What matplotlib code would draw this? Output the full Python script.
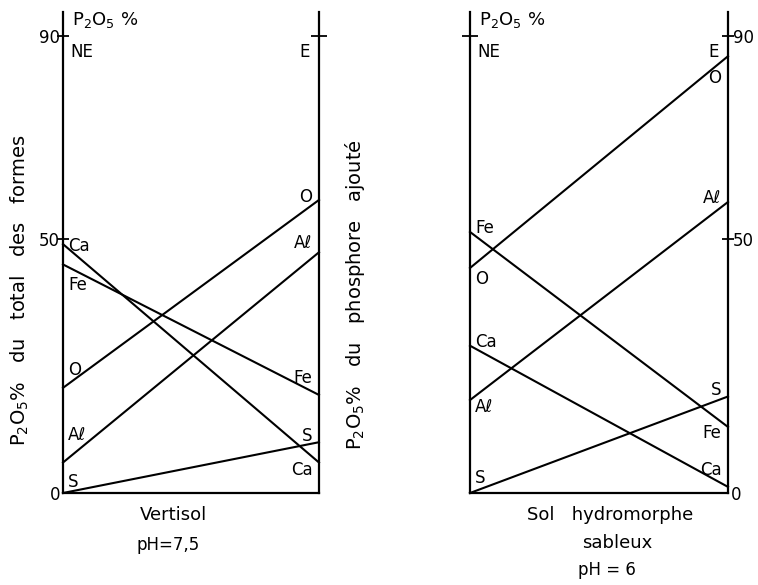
import matplotlib
matplotlib.use('Agg')
import matplotlib.pyplot as plt

# data: P2O5 % per form, NE (left axis) -> E (right axis)
forms = ['Ca', 'Fe', 'O', 'Aℓ', 'S']
vertisol_ne = [49, 45, 20.7, 6, 0]
vertisol_e = [6, 19.3, 57.7, 47.4, 10]
hydro_ne = [29, 51.4, 44.3, 18.3, 0]
hydro_e = [1.2, 13, 86, 57.3, 19]
ymax = 94.7

# label nudges (data units) relative to the line ends
vert_off_ne = [-0.4, -4.1, 3.5, 5.4, 2.2]
vert_off_e = [-1.5, 3.3, 0.6, 1.8, 1.2]
hydro_off_ne = [0.7, 0.8, -2.2, -1.4, 3.0]
hydro_off_e = [3.3, -1.2, -4.3, 0.8, 1.3]

fig = plt.figure(figsize=(7.58, 5.85), dpi=100)
plt.rcParams['font.family'] = 'DejaVu Sans'
FS = 12

def panel(rect):
    ax = fig.add_axes(rect)
    ax.set_xlim(0, 1)
    ax.set_ylim(0, ymax)
    ax.spines['top'].set_visible(False)
    for s in ['left', 'right', 'bottom']:
        ax.spines[s].set_linewidth(1.6)
    ax.set_xticks([])
    ax.set_yticks([])
    return ax

ax1 = panel([63 / 758, 92 / 585, 256 / 758, 481 / 585])
ax2 = panel([470 / 758, 92 / 585, 258 / 758, 481 / 585])

def draw(ax, ne_vals, e_vals, off_ne, off_e):
    for name, ne, e, a, b in zip(forms, ne_vals, e_vals, off_ne, off_e):
        ax.plot([0, 1], [ne, e], color='black', lw=1.5, clip_on=False)
        ax.text(0.02, ne + a, name, fontsize=FS, va='center', ha='left')
        ax.text(0.975, e + b, name, fontsize=FS, va='center', ha='right')

draw(ax1, vertisol_ne, vertisol_e, vert_off_ne, vert_off_e)
draw(ax2, hydro_ne, hydro_e, hydro_off_ne, hydro_off_e)

# ticks, left panel
ax1.set_yticks([50, 90])
ax1.set_yticklabels(['50', '90'], fontsize=FS)
ax1.set_yticks([0], minor=True)
ax1.set_yticklabels(['0'], minor=True, fontsize=FS)
ax1.tick_params(axis='y', which='major', direction='inout', length=9, width=1.3, pad=-2)
ax1.tick_params(axis='y', which='minor', length=0, pad=2)
t1 = ax1.twinx()
t1.set_ylim(0, ymax)
t1.set_yticks([90])
t1.set_yticklabels([''])
t1.tick_params(direction='inout', length=12, width=1.3)
for s in t1.spines.values():
    s.set_visible(False)

# ticks, right panel
ax2.set_yticks([90])
ax2.set_yticklabels([''])
ax2.tick_params(axis='y', direction='inout', length=12, width=1.3)
t2 = ax2.twinx()
t2.set_ylim(0, ymax)
t2.set_yticks([50, 90])
t2.set_yticklabels(['50', '90'], fontsize=FS)
t2.set_yticks([0], minor=True)
t2.set_yticklabels(['0'], minor=True, fontsize=FS)
t2.tick_params(axis='y', which='major', direction='inout', length=9, width=1.3, pad=-1)
t2.tick_params(axis='y', which='minor', length=0, pad=2)
for s in t2.spines.values():
    s.set_visible(False)

# header text
for ax in (ax1, ax2):
    ax.text(0.035, 1.005, 'P$_2$O$_5$ %', transform=ax.transAxes, fontsize=13,
            va='top', ha='left')
    ax.text(0.03, 90 - 1.5, 'NE', fontsize=FS, va='top', ha='left')
    ax.text(0.965, 90 - 1.5, 'E', fontsize=FS, va='top', ha='right')

# axis titles
fig.text(20 / 758, 1 - 290 / 585, 'P$_2$O$_5$%   du   total   des   formes', rotation=90,
         fontsize=14, ha='center', va='center')
fig.text(355 / 758, 1 - 295 / 585, 'P$_2$O$_5$%   du   phosphore   ajouté', rotation=90,
         fontsize=14, ha='center', va='center')

fig.text(173 / 758, 1 - 515 / 585, 'Vertisol', fontsize=13, ha='center', va='center')
fig.text(168 / 758, 1 - 545 / 585, 'pH=7,5', fontsize=12, ha='center', va='center')
fig.text(610 / 758, 1 - 515 / 585, 'Sol   hydromorphe', fontsize=13, ha='center', va='center')
fig.text(617 / 758, 1 - 543 / 585, 'sableux', fontsize=13, ha='center', va='center')
fig.text(607 / 758, 1 - 570 / 585, 'pH = 6', fontsize=12, ha='center', va='center')

fig.savefig('out.png', dpi=100)
